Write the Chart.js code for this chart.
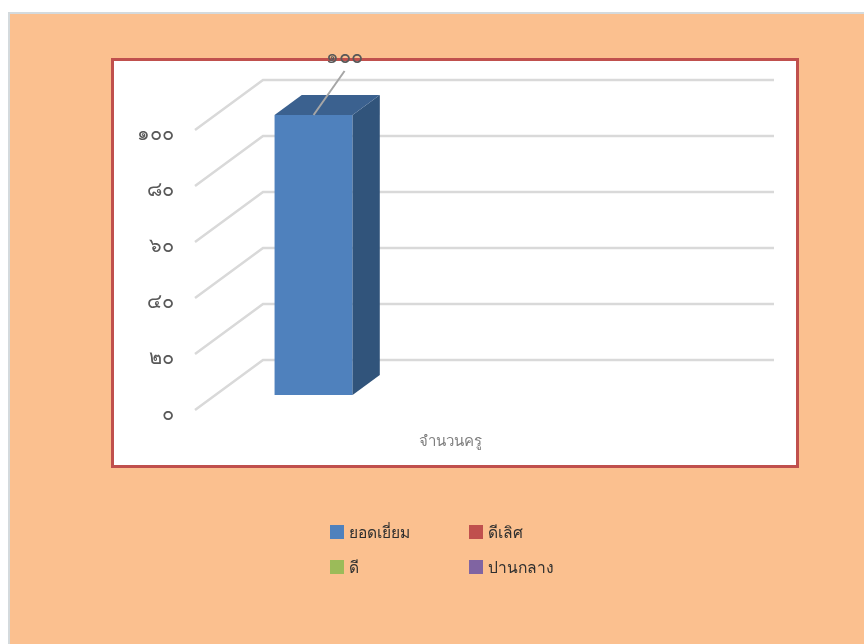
<!DOCTYPE html>
<html>
<head>
<meta charset="utf-8">
<style>
  html, body { margin: 0; padding: 0; background: #fff; overflow: hidden; }
  #page { position: relative; width: 864px; height: 644px; }
  #panel { position: absolute; left: 8px; top: 12px; right: -4px; bottom: -4px; background: #fbc08f; border: 2px solid #d4dadd; box-sizing: border-box; }
  #plot { position: absolute; left: 111px; top: 58px; width: 688px; height: 410px; background: #fff; border: 3px solid #c0504d; box-sizing: border-box; }
  canvas { position: absolute; left: 0; top: 0; }
  #legend { position: absolute; left: 330px; top: 514.5px; display: grid; grid-template-columns: 139px 139px; grid-auto-rows: 35px; font: 15.6px "Noto Sans", sans-serif; color: #2f2f2f; }
  #legend div { display: flex; align-items: center; }
  #legend i { width: 14px; height: 14px; margin-right: 5px; display: block; }
</style>
</head>
<body>
<div id="page">
  <div id="panel"></div>
  <div id="plot"></div>
  <canvas id="chart" width="864" height="644"></canvas>
  <div id="legend"></div>
</div>
<script src="https://cdn.jsdelivr.net/npm/chart.js@4/dist/chart.umd.min.js"></script>
<script>
const categories = ["จำนวนครู"];
const seriesNames = ["ยอดเยี่ยม", "ดีเลิศ", "ดี", "ปานกลาง"];
const seriesColors = ["#4f81bd", "#c0504d", "#9bbb59", "#8064a2"];
const excellent = [100];
const veryGood = [null];
const good = [null];
const medium = [null];
const thaiDigits = ["๐", "๑", "๒", "๓", "๔", "๕", "๖", "๗", "๘", "๙"];

function toThai(n) {
  return String(n).replace(/[0-9]/g, function (d) { return thaiDigits[d]; });
}

// the fake 3d look: wall depth and where bars sit on the floor
const wallDx = 68, wallDy = 50;
const barStart = 0.3, barDepth = 0.4;

const fake3d = {
  id: "fake3d",
  beforeDatasetsDraw(chart) {
    const ctx = chart.ctx, y = chart.scales.y, area = chart.chartArea;
    ctx.save();
    ctx.strokeStyle = "#d9d9d9";
    ctx.lineWidth = 2.5;
    y.ticks.forEach(function (t) {
      const py = y.getPixelForValue(t.value);
      ctx.beginPath();
      ctx.moveTo(area.left, py);
      ctx.lineTo(area.left + wallDx, py - wallDy);
      ctx.lineTo(area.right + wallDx, py - wallDy);
      ctx.stroke();
    });
    ctx.restore();
  },
  beforeDatasetDraw(chart) {
    chart.ctx.save();
    chart.ctx.translate(wallDx * barStart, -wallDy * barStart);
  },
  afterDatasetDraw(chart, args) {
    const ctx = chart.ctx;
    const dx = wallDx * barDepth, dy = wallDy * barDepth;
    chart.getDatasetMeta(args.index).data.forEach(function (bar, i) {
      if (chart.data.datasets[args.index].data[i] == null) return;
      const l = bar.x - bar.width / 2, r = bar.x + bar.width / 2;
      ctx.fillStyle = "#31547b";
      ctx.beginPath();
      ctx.moveTo(r, bar.y);
      ctx.lineTo(r + dx, bar.y - dy);
      ctx.lineTo(r + dx, bar.base - dy);
      ctx.lineTo(r, bar.base);
      ctx.fill();
      ctx.fillStyle = "#3b618f";
      ctx.beginPath();
      ctx.moveTo(l, bar.y);
      ctx.lineTo(l + dx, bar.y - dy);
      ctx.lineTo(r + dx, bar.y - dy);
      ctx.lineTo(r, bar.y);
      ctx.fill();
      // leader line and value label
      ctx.strokeStyle = "#a6a6a6";
      ctx.lineWidth = 2;
      ctx.beginPath();
      ctx.moveTo(bar.x, bar.y);
      ctx.lineTo(bar.x + 31, bar.y - 44);
      ctx.stroke();
      ctx.fillStyle = "#595959";
      ctx.font = '20px "Noto Sans", sans-serif';
      ctx.textAlign = "center";
      ctx.textBaseline = "middle";
      ctx.fillText(toThai(chart.data.datasets[args.index].data[i]), bar.x + 31, bar.y - 58);
    });
    ctx.restore();
  }
};

new Chart(document.getElementById("chart"), {
  type: "bar",
  plugins: [fake3d],
  data: {
    labels: categories,
    datasets: [
      { label: seriesNames[0], data: excellent, backgroundColor: seriesColors[0] },
      { label: seriesNames[1], data: veryGood, backgroundColor: seriesColors[1] },
      { label: seriesNames[2], data: good, backgroundColor: seriesColors[2] },
      { label: seriesNames[3], data: medium, backgroundColor: seriesColors[3] }
    ]
  },
  options: {
    responsive: false,
    animation: false,
    layout: { padding: { left: 135, right: 158, top: 130, bottom: 194 } },
    datasets: { bar: { barPercentage: 0.744, categoryPercentage: 0.821 } },
    plugins: { legend: { display: false }, tooltip: { enabled: false } },
    scales: {
      x: {
        grid: { display: false, drawTicks: false },
        border: { display: false },
        ticks: { padding: 23, color: "#7f7f7f", font: { family: '"Noto Sans", sans-serif', size: 15 } },
        afterFit: function (scale) { scale.height = 40; }
      },
      y: {
        min: 0,
        max: 100,
        grid: { display: false, drawTicks: false },
        border: { display: false },
        ticks: {
          stepSize: 20,
          padding: 21,
          labelOffset: 4,
          color: "#595959",
          font: { family: '"Noto Sans", sans-serif', size: 20 },
          callback: function (v) { return toThai(v); }
        },
        afterFit: function (scale) { scale.width = 60; }
      }
    }
  }
});

const legend = document.getElementById("legend");
seriesNames.forEach(function (name, i) {
  const row = document.createElement("div");
  const box = document.createElement("i");
  box.style.background = seriesColors[i];
  row.appendChild(box);
  row.appendChild(document.createTextNode(name));
  legend.appendChild(row);
});
</script>
</body>
</html>
